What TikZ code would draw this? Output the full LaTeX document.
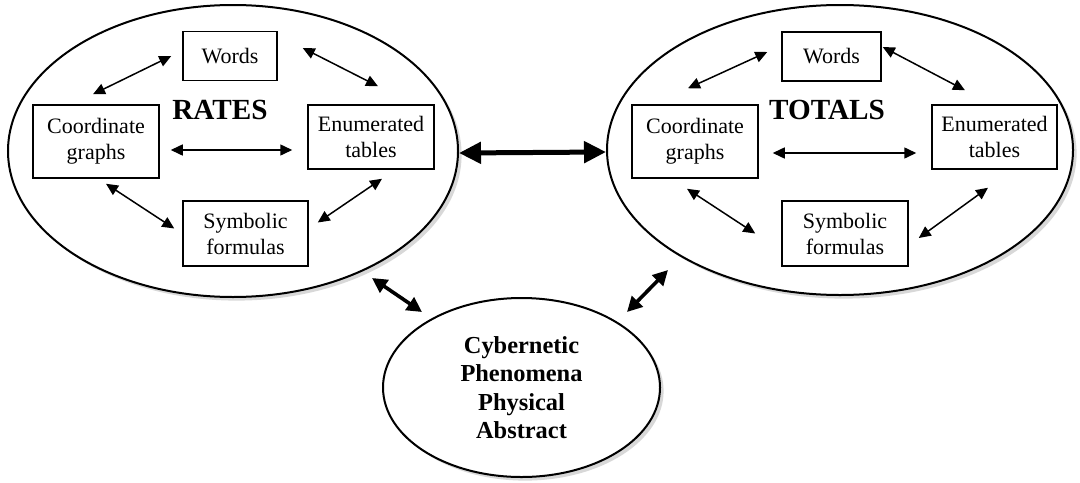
\documentclass[tikz,border=0pt]{standalone}
\usepackage{fontspec}
\setmainfont{Liberation Serif}
\usetikzlibrary{arrows.meta,shapes.geometric,shadows}

\begin{document}
\begin{tikzpicture}[x=0.5pt, y=-0.5pt,
    box/.style={draw, line width=0.75pt, align=center, inner sep=0pt, font=\fontsize{11}{13}\selectfont},
    blob/.style={draw, ellipse, line width=1pt, fill=white, inner sep=0pt,
        drop shadow={shadow xshift=1.8pt, shadow yshift=-1.8pt, fill=gray!60}},
    title/.style={font=\fontsize{14.6}{17}\selectfont\bfseries},
    link/.style={{Triangle[length=6pt,width=5.5pt]}-{Triangle[length=6pt,width=5.5pt]}, line width=0.75pt},
    biglink/.style={{Triangle[length=11pt,width=10.5pt]}-{Triangle[length=11pt,width=10.5pt]}, line width=2.5pt},
    midlink/.style={{Triangle[length=7.5pt,width=7.5pt]}-{Triangle[length=7.5pt,width=7.5pt]}, line width=1.8pt}]

    \useasboundingbox (0,0) rectangle (1080,482);

    % The two groups
    \node[blob, minimum width=225pt, minimum height=146pt] (rates) at (233,151) {};
    \node[blob, minimum width=233pt, minimum height=145pt] (totals) at (840,150) {};

    % Phenomena
    \node[blob, minimum width=138.5pt, minimum height=89.5pt, align=center,
        font=\fontsize{12.2}{14.2}\selectfont\bfseries] (phen) at (521.5,387.5)
        {Cybernetic\\Phenomena\\Physical\\Abstract};

    % RATES: four representations
    \node[title] (ratesTitle) at (220,110) {RATES};
    \node[box, minimum width=47pt, minimum height=24.5pt] (wordsL) at (230,56) {Words};
    \node[box, minimum width=63pt, minimum height=36.5pt] (coordL) at (96,141.5) {Coordinate\\graphs};
    \node[box, minimum width=63pt, minimum height=32pt] (enumL) at (371,137) {Enumerated\\tables};
    \node[box, minimum width=62.5pt, minimum height=32.5pt] (symbL) at (245.5,233.5) {Symbolic\\formulas};

    \draw[link] ([shift={(-3,-10)}]coordL.north) -- ([shift={(-11,0)}]wordsL.west);
    \draw[link] ([shift={(25,-8)}]wordsL.east) -- ([shift={(7,-18)}]enumL.north);
    \draw[link] ([shift={(11,8.5)}]coordL.east) -- ([shift={(-15,13)}]enumL.west);
    \draw[link] ([shift={(10,5)}]coordL.south) -- ([shift={(-8,-5)}]symbL.west);
    \draw[link] ([shift={(11,9)}]enumL.south) -- ([shift={(9,-11)}]symbL.east);

    % TOTALS: the same four
    \node[title] (totalsTitle) at (827,110) {TOTALS};
    \node[box, minimum width=49.5pt, minimum height=24.5pt] (wordsR) at (831.5,56.5) {Words};
    \node[box, minimum width=63pt, minimum height=36.5pt] (coordR) at (695,141.5) {Coordinate\\graphs};
    \node[box, minimum width=62.5pt, minimum height=32pt] (enumR) at (994.5,137) {Enumerated\\tables};
    \node[box, minimum width=63pt, minimum height=32.5pt] (symbR) at (845,233.5) {Symbolic\\formulas};

    \draw[link] ([shift={(-7,-16)}]coordR.north) -- ([shift={(-14,-4.5)}]wordsR.west);
    \draw[link] ([shift={(1,-9.5)}]wordsR.east) -- ([shift={(-29.5,-14)}]enumR.north);
    \draw[link] ([shift={(14,11.5)}]coordR.east) -- ([shift={(-15,16)}]enumR.west);
    \draw[link] ([shift={(-8,10)}]coordR.south) -- ([shift={(-26,0)}]symbR.west);
    \draw[link] ([shift={(-6.5,18)}]enumR.south) -- ([shift={(10,4.5)}]symbR.east);

    % Links between the ellipses
    \draw[biglink] ([yshift=-1pt]rates.east) -- ([yshift=-1pt]totals.west);
    \draw[midlink] ([shift={(139,127)}]rates.center) -- ([shift={(-99.5,-75.5)}]phen.center);
    \draw[midlink] ([shift={(-172,120)}]totals.center) -- ([shift={(105.5,-75.5)}]phen.center);

\end{tikzpicture}
\end{document}
